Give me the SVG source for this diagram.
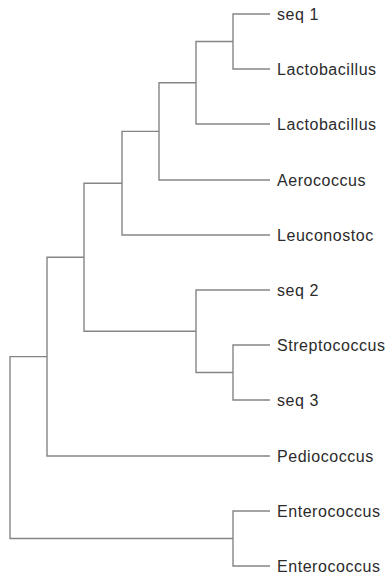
<svg xmlns="http://www.w3.org/2000/svg" width="391" height="575" viewBox="0 0 391 575">
<style>
.edge{fill:none;stroke:#858585;stroke-width:1.4;stroke-linejoin:miter;stroke-linecap:butt}
.lbl{font-family:"Liberation Sans",Arial,sans-serif;font-size:16px;letter-spacing:0.55px;fill:#2b2b2b}
</style>
<rect width="391" height="575" fill="#ffffff"/>
<g id="connectors">
<path class="edge" d="M270 14 H233 V69 H270"/>
<path class="edge" d="M233 41.5 H196 V124 H270"/>
<path class="edge" d="M196 82.75 H159 V180 H270"/>
<path class="edge" d="M159 131.4 H122 V235 H270"/>
<path class="edge" d="M270 345 H233 V400 H270"/>
<path class="edge" d="M270 290 H196 V372.5 H233"/>
<path class="edge" d="M122 183.2 H84 V331.25 H196"/>
<path class="edge" d="M84 257.2 H47 V456 H270"/>
<path class="edge" d="M270 511 H233 V566 H270"/>
<path class="edge" d="M47 356.6 H10 V538.5 H233"/>
</g>
<g id="leaf-seq1"><text class="lbl" x="277" y="20">seq 1</text></g>
<g id="leaf-lactobacillus1"><text class="lbl" x="277" y="75">Lactobacillus</text></g>
<g id="leaf-lactobacillus2"><text class="lbl" x="277" y="130">Lactobacillus</text></g>
<g id="leaf-aerococcus"><text class="lbl" x="277" y="186">Aerococcus</text></g>
<g id="leaf-leuconostoc"><text class="lbl" x="277" y="241">Leuconostoc</text></g>
<g id="leaf-seq2"><text class="lbl" x="277" y="296">seq 2</text></g>
<g id="leaf-streptococcus"><text class="lbl" x="277" y="351">Streptococcus</text></g>
<g id="leaf-seq3"><text class="lbl" x="277" y="406">seq 3</text></g>
<g id="leaf-pediococcus"><text class="lbl" x="277" y="462">Pediococcus</text></g>
<g id="leaf-enterococcus1"><text class="lbl" x="277" y="517">Enterococcus</text></g>
<g id="leaf-enterococcus2"><text class="lbl" x="277" y="572">Enterococcus</text></g>
</svg>
